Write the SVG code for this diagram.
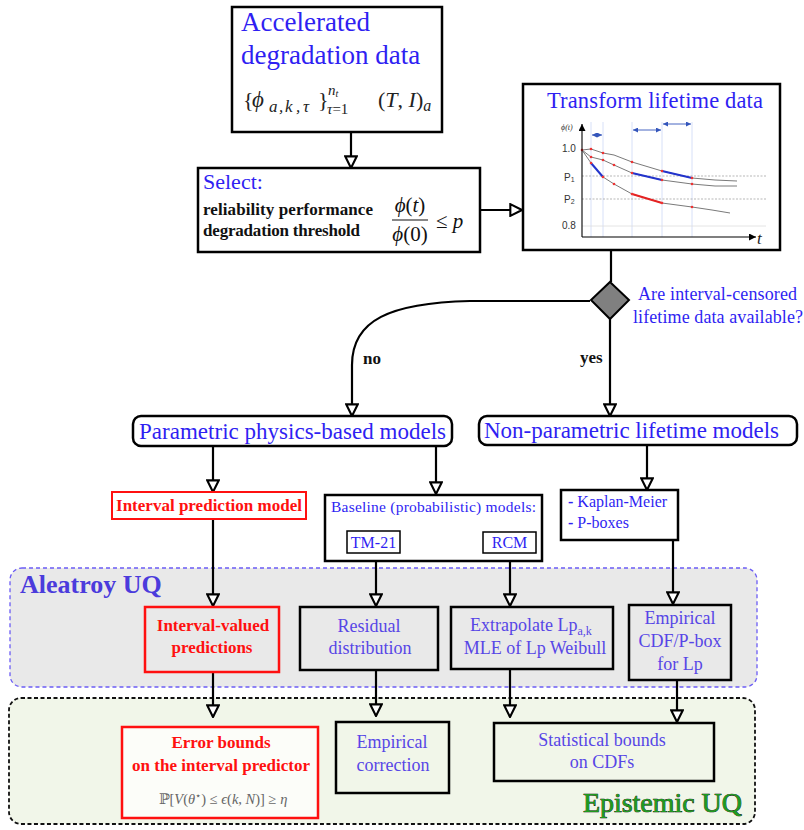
<svg xmlns="http://www.w3.org/2000/svg" width="804" height="830" viewBox="0 0 804 830">
<defs>
<marker id="arr" markerUnits="userSpaceOnUse" markerWidth="14" markerHeight="14" viewBox="0 0 12 12" refX="11" refY="6" orient="auto">
<path d="M1,1 L11,6 L1,11 Z" fill="#fff" stroke="#000" stroke-width="1.8"/>
</marker>
<marker id="sa" markerUnits="userSpaceOnUse" markerWidth="7" markerHeight="7" viewBox="0 0 8 8" refX="8" refY="4" orient="auto">
<path d="M0,0 L8,4 L0,8 Z" fill="#000"/>
</marker>
<marker id="ia" markerUnits="userSpaceOnUse" markerWidth="5" markerHeight="5" viewBox="0 0 8 8" refX="8" refY="4" orient="auto-start-reverse">
<path d="M0,0 L8,4 L0,8 Z" fill="#3355bb"/>
</marker>
</defs>
<style>
.t{font-family:"Liberation Serif","DejaVu Serif",serif}
.s{font-family:"Liberation Sans","DejaVu Sans",sans-serif}
.box{fill:#fff;stroke:#000;stroke-width:2.5}
.gbox{fill:#e9e9e9;stroke:#000;stroke-width:2.5}
.ebox{fill:#f1f6e9;stroke:#000;stroke-width:2.5}
.rbox{stroke:#ff1010;stroke-width:2.5}
.conn{fill:none;stroke:#000;stroke-width:2.2;marker-end:url(#arr)}
.b1{fill:#2f1ff2}
.b2{fill:#5746e6}
.red{fill:#ff1010}
.m{fill:#222}
.curve{fill:none;stroke:#7a7a7a;stroke-width:1}
.vl{stroke:#cdd8f6;stroke-width:0.8}
</style>

<g id="regions">
<rect id="aleatory-region" x="10" y="568" width="747" height="119" rx="12" fill="#e9e9e9" stroke="#6b5cf5" stroke-width="1.3" stroke-dasharray="4,3"/>
<rect id="epistemic-region" x="9" y="698" width="746" height="126" rx="12" fill="#f1f6e9" stroke="#111" stroke-width="1.8" stroke-dasharray="4,2.5"/>
<text class="t" x="20" y="593" font-size="26" font-weight="bold" fill="#4b3bdc">Aleatroy UQ</text>
<text class="t" x="583" y="812" font-size="28" textLength="159" fill="#1f9a1f" stroke="#000" stroke-width="0.7" paint-order="stroke">Epistemic UQ</text>
</g>

<g id="connectors">
<path class="conn" d="M351,132 L351,168"/>
<path class="conn" d="M480,210 L522,210"/>
<path d="M611,250 L611,282" fill="none" stroke="#000" stroke-width="2.2"/>
<path class="conn" d="M590,301 L470,301 C390,303 352,320 352,365 L352,416"/>
<path class="conn" d="M610,319 L610,416"/>
<path class="conn" d="M213,446 L213,492"/>
<path class="conn" d="M436,446 L436,494"/>
<path class="conn" d="M647,445 L647,490"/>
<path class="conn" d="M213,519 L213,606"/>
<path class="conn" d="M376,553 L376,606"/>
<path class="conn" d="M510,553 L510,606"/>
<path class="conn" d="M673,540 L673,604"/>
<path class="conn" d="M213,672 L213,717"/>
<path class="conn" d="M376,670 L376,716"/>
<path class="conn" d="M510,669 L510,717"/>
<path class="conn" d="M677,680 L677,722"/>
<text class="t" x="363" y="364" font-size="17" font-weight="bold" fill="#111">no</text>
<text class="t" x="580" y="363" font-size="17" font-weight="bold" fill="#111">yes</text>
</g>

<g id="accelerated-data">
<rect class="box" x="232" y="7" width="210" height="125"/>
<text class="t b1" x="241" y="31" font-size="27">Accelerated</text>
<text class="t b1" x="241" y="64" font-size="27">degradation data</text>
<text class="t m" x="243" y="107" font-size="22">{</text>
<text class="t m" x="252" y="107" font-size="23" font-style="italic">ϕ</text>
<text class="t m" x="269 279 285 296 303" y="112" font-size="17" font-style="italic">a,k,τ</text>
<text class="t m" x="318" y="107" font-size="22">}</text>
<text class="t m" x="328" y="95" font-size="15" font-style="italic">n<tspan font-size="10" dy="2">t</tspan></text>
<text class="t m" x="327" y="114" font-size="15"><tspan font-style="italic">τ</tspan>=1</text>
<text class="t m" x="378" y="107" font-size="22">(<tspan font-style="italic">T</tspan>, <tspan font-style="italic">I</tspan>)<tspan font-style="italic" font-size="16" dy="4">a</tspan></text>
</g>

<g id="select">
<rect class="box" x="198" y="168" width="282" height="84"/>
<text class="t b1" x="203" y="189" font-size="22">Select:</text>
<text class="t" x="203" y="215" font-size="17" font-weight="bold" fill="#111" textLength="170">reliability performance</text>
<text class="t" x="203" y="236" font-size="17" font-weight="bold" fill="#111" textLength="157">degradation threshold</text>
<text class="t" x="410" y="212" font-size="21" text-anchor="middle" fill="#111"><tspan font-style="italic">ϕ</tspan>(<tspan font-style="italic">t</tspan>)</text>
<line x1="392" y1="220" x2="428" y2="220" stroke="#111" stroke-width="1.2"/>
<text class="t" x="410" y="241" font-size="21" text-anchor="middle" fill="#111"><tspan font-style="italic">ϕ</tspan>(0)</text>
<text class="t" x="436" y="228" font-size="21" fill="#111">≤ <tspan font-style="italic">p</tspan></text>
</g>

<g id="transform">
<rect class="box" x="523" y="84" width="257" height="166"/>
<text class="t b1" x="547" y="108" font-size="22.5" textLength="216">Transform lifetime data</text>
<g id="chart">
<line class="vl" x1="591" y1="122" x2="591" y2="237"/>
<line class="vl" x1="603" y1="122" x2="603" y2="237"/>
<line class="vl" x1="632" y1="122" x2="632" y2="237"/>
<line class="vl" x1="662" y1="122" x2="662" y2="237"/>
<line class="vl" x1="692" y1="122" x2="692" y2="237"/>
<line x1="582" y1="176" x2="766" y2="176" stroke="#999" stroke-width="0.7" stroke-dasharray="2,1.5"/>
<line x1="582" y1="199" x2="766" y2="199" stroke="#999" stroke-width="0.7" stroke-dasharray="2,1.5"/>
<line x1="582" y1="226" x2="766" y2="226" stroke="#ddd" stroke-width="0.8"/>
<polyline class="curve" points="582,150 591,149 603,153 614,155 632,162 662,171 692,178 715,180 737,181"/>
<polyline class="curve" points="582,150 591,157 603,160 614,165 632,173 662,180 692,184 715,186 737,186"/>
<polyline class="curve" points="582,150 591,163 603,177 614,184 632,194 662,203 692,207 712,210 730,213"/>
<line x1="591" y1="163" x2="603" y2="177" stroke="#2233cc" stroke-width="2"/>
<line x1="632" y1="173" x2="662" y2="180" stroke="#2233cc" stroke-width="2"/>
<line x1="662" y1="171" x2="692" y2="178" stroke="#2233cc" stroke-width="2"/>
<line x1="632" y1="194" x2="662" y2="203" stroke="#e52222" stroke-width="2"/>
<g fill="#ee3333">
<circle cx="582" cy="150" r="1.3"/><circle cx="591" cy="149" r="1.3"/><circle cx="603" cy="153" r="1.3"/><circle cx="632" cy="162" r="1.3"/><circle cx="662" cy="171" r="1.3"/><circle cx="692" cy="178" r="1.3"/>
<circle cx="591" cy="157" r="1.3"/><circle cx="603" cy="160" r="1.3"/><circle cx="614" cy="165" r="1.3"/><circle cx="632" cy="173" r="1.3"/><circle cx="662" cy="180" r="1.3"/><circle cx="692" cy="184" r="1.3"/>
<circle cx="591" cy="163" r="1.3"/><circle cx="603" cy="177" r="1.3"/><circle cx="614" cy="184" r="1.3"/><circle cx="632" cy="194" r="1.3"/><circle cx="662" cy="203" r="1.3"/><circle cx="692" cy="207" r="1.3"/>
</g>
<line x1="592" y1="135" x2="602" y2="135" stroke="#3355bb" stroke-width="0.9" marker-start="url(#ia)" marker-end="url(#ia)"/>
<line x1="633" y1="130" x2="661" y2="130" stroke="#3355bb" stroke-width="0.9" marker-start="url(#ia)" marker-end="url(#ia)"/>
<line x1="663" y1="124" x2="691" y2="124" stroke="#3355bb" stroke-width="0.9" marker-start="url(#ia)" marker-end="url(#ia)"/>
<line x1="582" y1="237" x2="582" y2="124" stroke="#000" stroke-width="1.1" marker-end="url(#sa)"/>
<line x1="582" y1="237" x2="756" y2="237" stroke="#000" stroke-width="1.1" marker-end="url(#sa)"/>
<text class="t" x="561" y="130" font-size="8" font-style="italic" fill="#333">ϕ(t)</text>
<text class="s" x="562" y="152" font-size="10" fill="#333">1.0</text>
<text class="s" x="564" y="181" font-size="10" fill="#333">P<tspan font-size="7" dy="1">1</tspan></text>
<text class="s" x="564" y="203" font-size="10" fill="#333">P<tspan font-size="7" dy="1">2</tspan></text>
<text class="s" x="562" y="229" font-size="10" fill="#333">0.8</text>
<text class="t" x="757" y="244" font-size="17" font-style="italic" fill="#222">t</text>
</g>
</g>

<g id="decision">
<polygon points="610,282 629,300 610,319 591,300" fill="#808080" stroke="#000" stroke-width="2"/>
<text class="t b1" x="638" y="300" font-size="18" textLength="159">Are interval-censored</text>
<text class="t b1" x="633" y="323" font-size="18" textLength="170">lifetime data available?</text>
</g>

<g id="parametric">
<rect class="box" x="133" y="416" width="319" height="30" rx="8"/>
<text class="t b1" x="139" y="439" font-size="23" textLength="307">Parametric physics-based models</text>
</g>

<g id="nonparametric">
<rect class="box" x="479" y="416" width="318" height="29" rx="8"/>
<text class="t b1" x="484" y="438" font-size="23" textLength="295">Non-parametric lifetime models</text>
</g>

<g id="interval-prediction-model">
<rect x="112" y="492" width="194" height="27" fill="#fff" stroke="#ff1010" stroke-width="2"/>
<text class="t red" x="209" y="511" font-size="17" font-weight="bold" text-anchor="middle" textLength="186">Interval prediction model</text>
</g>

<g id="baseline">
<rect class="box" x="325" y="495" width="217" height="66"/>
<text class="t b1" x="331" y="512" font-size="15.5" textLength="205">Baseline (probabilistic) models:</text>
</g>
<g id="tm21">
<rect x="347" y="531" width="53" height="22" fill="#fff" stroke="#000" stroke-width="1.5"/>
<text class="t b1" x="373.5" y="548" font-size="16" text-anchor="middle">TM-21</text>
</g>
<g id="rcm">
<rect x="483" y="532" width="53" height="21" fill="#fff" stroke="#000" stroke-width="1.5"/>
<text class="t b1" x="509.5" y="548" font-size="16" text-anchor="middle">RCM</text>
</g>

<g id="kaplan">
<rect class="box" x="561" y="490" width="117" height="50"/>
<text class="t b1" x="568" y="507" font-size="16"><tspan font-weight="bold">-</tspan> Kaplan-Meier</text>
<text class="t b1" x="568" y="528" font-size="16"><tspan font-weight="bold">-</tspan> P-boxes</text>
</g>

<g id="interval-valued">
<rect class="rbox" x="145" y="607" width="134" height="65" fill="#e9e9e9"/>
<text class="t red" x="213" y="631" font-size="17" font-weight="bold" text-anchor="middle">Interval-valued</text>
<text class="t red" x="212" y="653" font-size="17" font-weight="bold" text-anchor="middle">predictions</text>
</g>

<g id="residual">
<rect class="gbox" x="300" y="607" width="138" height="63"/>
<text class="t b2" x="369" y="632" font-size="18" text-anchor="middle">Residual</text>
<text class="t b2" x="370" y="654" font-size="18" text-anchor="middle">distribution</text>
</g>

<g id="extrapolate">
<rect class="gbox" x="451" y="607" width="162" height="62"/>
<text class="t b2" x="470" y="631" font-size="18">Extrapolate Lp<tspan font-size="12" dy="4">a,k</tspan></text>
<text class="t b2" x="535" y="654" font-size="18" text-anchor="middle">MLE of Lp Weibull</text>
</g>

<g id="empirical-cdf">
<rect class="gbox" x="629" y="605" width="102" height="75"/>
<text class="t b2" x="680" y="624" font-size="18" text-anchor="middle">Empirical</text>
<text class="t b2" x="680" y="647" font-size="18" text-anchor="middle">CDF/P-box</text>
<text class="t b2" x="680" y="670" font-size="18" text-anchor="middle">for Lp</text>
</g>

<g id="error-bounds">
<rect class="rbox" x="122" y="727" width="196" height="91" fill="#fcfdf9"/>
<text class="t red" x="221" y="748" font-size="17" font-weight="bold" text-anchor="middle">Error bounds</text>
<text class="t red" x="221" y="771" font-size="17" font-weight="bold" text-anchor="middle" textLength="178">on the interval predictor</text>
<text class="t" x="223" y="804" font-size="14.5" text-anchor="middle" fill="#666">ℙ[<tspan font-style="italic">V</tspan>(<tspan font-style="italic">θ</tspan><tspan font-size="10" dy="-5">⋆</tspan><tspan dy="5">) ≤ </tspan><tspan font-style="italic">ϵ</tspan>(<tspan font-style="italic">k</tspan>, <tspan font-style="italic">N</tspan>)] ≥ <tspan font-style="italic">η</tspan></text>
</g>

<g id="empirical-correction">
<rect class="ebox" x="336" y="722" width="113" height="71"/>
<text class="t b2" x="392" y="748" font-size="18" text-anchor="middle">Empirical</text>
<text class="t b2" x="393" y="771" font-size="18" text-anchor="middle">correction</text>
</g>

<g id="statistical-bounds">
<rect class="ebox" x="494" y="723" width="220" height="58"/>
<text class="t b2" x="602" y="746" font-size="18" text-anchor="middle">Statistical bounds</text>
<text class="t b2" x="602" y="768" font-size="18" text-anchor="middle">on CDFs</text>
</g>
</svg>
